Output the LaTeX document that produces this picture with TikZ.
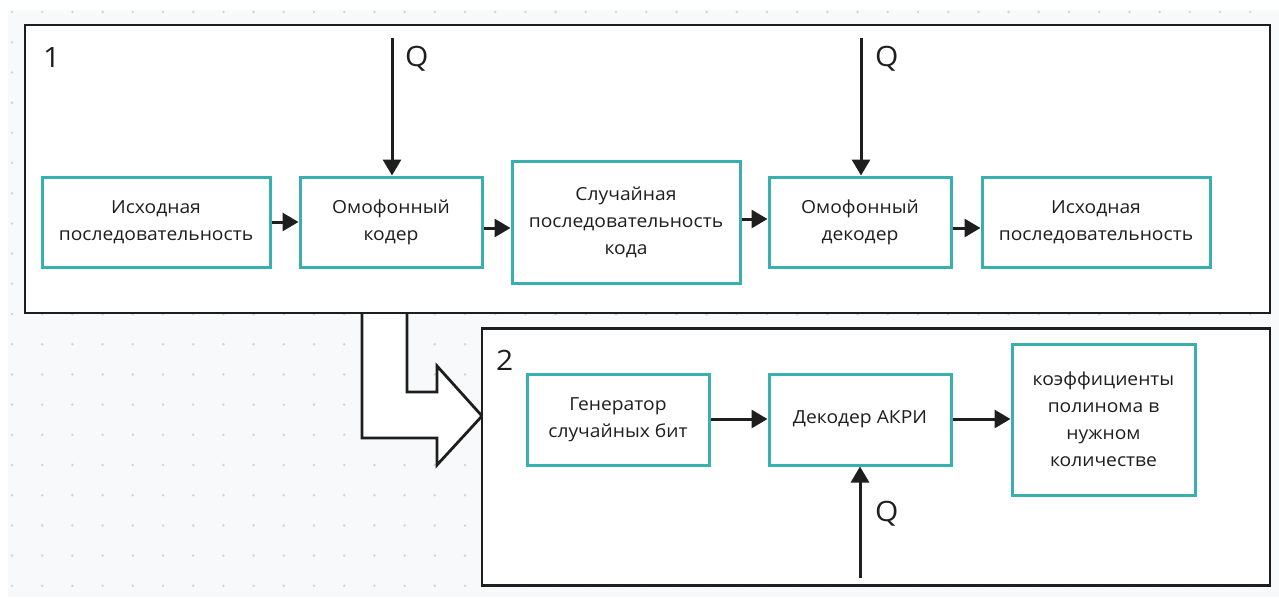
\documentclass[tikz,border=0pt]{standalone}
\usepackage{fontspec}
\setmainfont{Open Sans}[FakeStretch=1.07]
\usetikzlibrary{arrows.meta}
\definecolor{tealbox}{HTML}{3AAFAF}
\definecolor{canvas}{HTML}{F8F9FB}
\definecolor{griddot}{HTML}{D3D5D9}
\definecolor{ink}{HTML}{1E1E1E}
\tikzset{
  blk/.style={draw=tealbox, line width=3pt, fill=white, align=center,
    font=\fontsize{18pt}{27pt}\selectfont, text=ink, inner sep=0pt},
  frame/.style={draw=ink, line width=2.8pt, fill=white, inner sep=0pt},
  flow/.style={draw=ink, line width=3pt, -{Triangle[length=16pt,width=18pt]}},
  biglabel/.style={font=\fontsize{28pt}{30pt}\selectfont, text=ink, inner sep=0pt},
}
\begin{document}
\begin{tikzpicture}[x=1pt,y=-1pt]
  % page and dotted canvas
  \useasboundingbox (0,0) rectangle (1279,597);
  \fill[white] (0,0) rectangle (1279,597);
  \fill[canvas] (8,10) rectangle (1279,597);
  \foreach \i in {0,...,42}{
    \foreach \j in {0,...,19}{
      \fill[griddot] ({12+30.2*\i},{12+30.2*\j}) circle (1.4pt);
    }
  }

  % hollow block arrow from frame 1 to frame 2
  \path[fill=white] (362,312) -- (362,438) -- (437,438) -- (437,465) -- (482,416)
    -- (437,366) -- (437,392) -- (407,392) -- (407,312) -- cycle;
  \draw[ink, line width=2.8pt, line join=miter] (362,312) -- (362,438) -- (437,438)
    -- (437,465) -- (482,416) -- (437,366) -- (437,392) -- (407,392) -- (407,312);

  % frames
  \node[frame, minimum width=1245pt, minimum height=288pt] (F1) at (647.5,169) {};
  \node[frame, minimum width=788pt, minimum height=257pt] (F2) at (876,457) {};
  \node[biglabel, anchor=north west] (L1) at (43,47) {1};
  \node[biglabel, anchor=north west] (L2) at (496,350) {2};

  % upper chain
  \node[blk, minimum width=228pt, minimum height=90pt] (A) at (156,222)
    {Исходная\\последовательность};
  \node[blk, minimum width=182pt, minimum height=90pt] (B) at (391,222)
    {Омофонный\\кодер};
  \node[blk, minimum width=228pt, minimum height=122pt] (C) at (626,222)
    {Случайная\\последовательность\\кода};
  \node[blk, minimum width=182pt, minimum height=90pt] (D) at (860,222)
    {Омофонный\\декодер};
  \node[blk, minimum width=228pt, minimum height=90pt] (E) at (1096,222)
    {Исходная\\последовательность};

  \draw[flow] (A.east |- 0,222) -- (B.west |- 0,222);
  \draw[flow] (B.east |- 0,228) -- (C.west |- 0,228);
  \draw[flow] (C.east |- 0,219) -- (D.west |- 0,219);
  \draw[flow] (D.east |- 0,228) -- (E.west |- 0,228);

  \coordinate (q1) at (392,38);
  \coordinate (q2) at (861,38);
  \draw[flow] (q1) -- (q1 |- B.north);
  \draw[flow] (q2) -- (q2 |- D.north);
  \node[biglabel, anchor=north west] (Q1) at (405,46) {Q};
  \node[biglabel, anchor=north west] (Q2) at (875,46) {Q};

  % lower chain
  \node[blk, minimum width=182pt, minimum height=91pt] (G) at (618,419.5)
    {Генератор\\случайных бит};
  \node[blk, minimum width=182pt, minimum height=91pt] (K) at (860,419.5)
    {Декодер АКРИ};
  \node[blk, minimum width=183pt, minimum height=151pt] (H) at (1103.5,419.5)
    {коэффициенты\\полинома в\\нужном\\количестве};

  \draw[flow] (G.east |- 0,419) -- (K.west |- 0,419);
  \draw[flow] (K.east |- 0,419) -- (H.west |- 0,419);

  \coordinate (q3) at (860,578);
  \draw[flow] (q3) -- (q3 |- K.south);
  \node[biglabel, anchor=north west] (Q3) at (875,501) {Q};
\end{tikzpicture}
\end{document}
